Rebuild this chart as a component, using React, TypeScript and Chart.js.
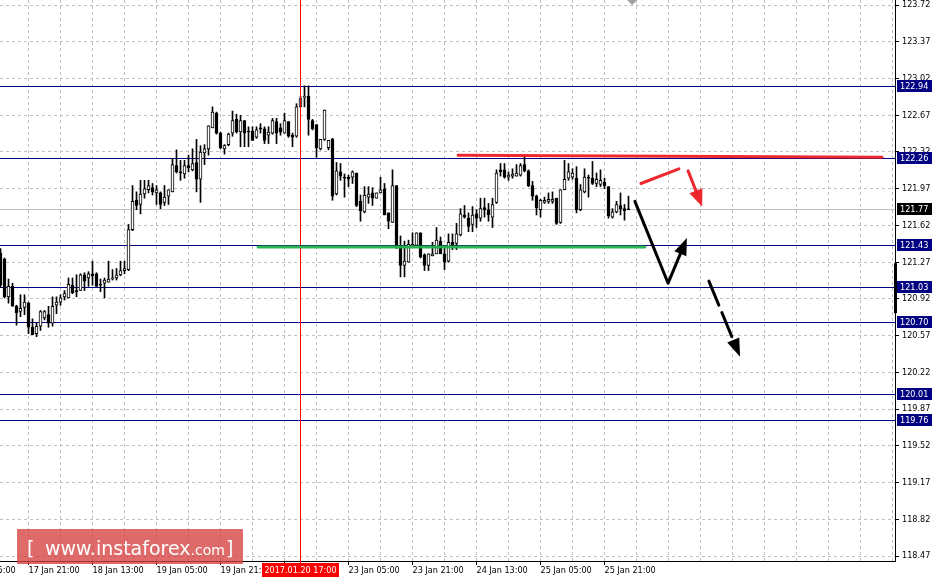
import React, { useEffect, useRef } from 'react';
import { Chart, registerables } from 'chart.js';

Chart.register(...registerables);

// ---- H1 candles (USDJPY style), index 0 = first visible bar ----
const opens = [
  121.36, 121.30, 120.94, 121.04, 120.85, 120.80, 120.84, 120.88, 120.65, 120.59,
  120.66, 120.74, 120.77, 120.69, 120.86, 120.89, 120.94, 120.93, 121.05, 121.00,
  121.00, 121.15, 121.12, 121.16, 121.16, 121.06, 121.07, 121.08, 121.11, 121.12,
  121.15, 121.19, 121.20, 121.58, 121.86, 121.82, 121.92, 121.96, 121.98, 121.93,
  121.93, 121.84, 121.90, 121.94, 122.19, 122.13, 122.11, 122.19, 122.15, 122.22,
  122.06, 122.31, 122.35, 122.55, 122.69, 122.50, 122.35, 122.39, 122.50, 122.63,
  122.51, 122.62, 122.52, 122.52, 122.46, 122.55, 122.54, 122.48, 122.50, 122.61,
  122.55, 122.50, 122.61, 122.48, 122.47, 122.75, 122.84, 122.85, 122.62, 122.58,
  122.35, 122.44, 122.36, 122.44, 121.92, 122.13, 122.08, 122.08, 122.08, 122.12,
  121.85, 121.75, 121.89, 121.93, 121.88, 121.93, 121.97, 121.74, 121.65, 122.00,
  121.43, 121.24, 121.27, 121.42, 121.43, 121.55, 121.34, 121.24, 121.33, 121.35,
  121.47, 121.35, 121.28, 121.46, 121.45, 121.53, 121.72, 121.69, 121.63, 121.73,
  121.69, 121.79, 121.77, 121.70, 121.84, 122.15, 122.15, 122.08, 122.09, 122.09,
  122.10, 122.20, 122.14, 122.00, 121.90, 121.77, 121.84, 121.85, 121.85, 121.88,
  121.65, 121.96, 122.07, 122.08, 122.07, 121.77, 121.94, 122.08, 122.07, 122.02,
  122.01, 122.03, 121.99, 121.70, 121.75, 121.81, 121.78, 121.77,
];
const highs = [
  121.40, 121.31, 121.11, 121.07, 120.86, 120.96, 120.96, 120.89, 120.73, 120.69,
  120.81, 120.81, 120.85, 120.94, 120.94, 120.96, 121.00, 121.12, 121.12, 121.15,
  121.16, 121.17, 121.18, 121.28, 121.17, 121.11, 121.12, 121.28, 121.20, 121.21,
  121.28, 121.28, 121.63, 122.00, 121.94, 122.05, 122.05, 122.05, 122.02, 122.00,
  121.94, 122.00, 121.96, 122.26, 122.34, 122.24, 122.24, 122.29, 122.35, 122.44,
  122.38, 122.39, 122.57, 122.75, 122.70, 122.51, 122.39, 122.50, 122.71, 122.68,
  122.67, 122.62, 122.56, 122.56, 122.56, 122.59, 122.56, 122.56, 122.64, 122.64,
  122.59, 122.69, 122.61, 122.50, 122.78, 122.85, 122.95, 122.95, 122.63, 122.58,
  122.44, 122.72, 122.43, 122.45, 122.22, 122.21, 122.11, 122.10, 122.14, 122.12,
  121.91, 121.99, 121.99, 121.98, 121.93, 122.08, 122.02, 121.74, 122.15, 122.00,
  121.52, 121.47, 121.48, 121.55, 121.55, 121.55, 121.35, 121.35, 121.46, 121.60,
  121.51, 121.43, 121.54, 121.54, 121.64, 121.78, 121.81, 121.74, 121.80, 121.77,
  121.88, 121.88, 121.83, 121.88, 122.15, 122.21, 122.21, 122.13, 122.16, 122.20,
  122.21, 122.28, 122.15, 122.04, 121.91, 121.87, 121.89, 121.93, 121.94, 121.88,
  121.96, 122.24, 122.21, 122.16, 122.18, 122.01, 122.16, 122.10, 122.23, 122.12,
  122.15, 122.07, 121.99, 121.78, 121.85, 121.93, 121.82, 121.90,
];
const lows = [
  121.03, 120.93, 120.88, 120.85, 120.67, 120.75, 120.77, 120.59, 120.58, 120.56,
  120.62, 120.72, 120.65, 120.66, 120.78, 120.86, 120.91, 120.93, 120.97, 120.94,
  121.00, 121.00, 121.04, 121.05, 121.04, 120.99, 120.93, 121.08, 121.10, 121.10,
  121.14, 121.16, 121.19, 121.57, 121.77, 121.73, 121.88, 121.93, 121.91, 121.82,
  121.78, 121.81, 121.82, 121.94, 122.12, 122.05, 122.07, 122.13, 122.14, 121.94,
  121.84, 122.20, 122.29, 122.55, 122.49, 122.35, 122.30, 122.38, 122.47, 122.50,
  122.37, 122.37, 122.37, 122.43, 122.45, 122.50, 122.40, 122.40, 122.49, 122.40,
  122.48, 122.50, 122.46, 122.37, 122.46, 122.75, 122.75, 122.48, 122.53, 122.27,
  122.34, 122.43, 122.34, 121.86, 121.91, 122.05, 121.89, 121.99, 122.02, 121.80,
  121.66, 121.74, 121.83, 121.81, 121.88, 121.93, 121.72, 121.59, 121.65, 121.40,
  121.13, 121.13, 121.27, 121.42, 121.43, 121.31, 121.19, 121.19, 121.33, 121.35,
  121.35, 121.20, 121.27, 121.39, 121.39, 121.52, 121.69, 121.56, 121.56, 121.60,
  121.66, 121.70, 121.66, 121.60, 121.83, 122.09, 122.07, 122.05, 122.07, 122.09,
  122.09, 122.13, 121.99, 121.86, 121.72, 121.70, 121.83, 121.83, 121.83, 121.63,
  121.64, 121.96, 122.05, 122.06, 121.74, 121.76, 121.93, 121.89, 122.01, 121.99,
  121.99, 121.97, 121.69, 121.69, 121.74, 121.72, 121.67, 121.77,
];
const closes = [
  121.05, 120.94, 121.04, 120.85, 120.79, 120.83, 120.89, 120.65, 120.58, 120.66,
  120.80, 120.80, 120.69, 120.85, 120.89, 120.93, 120.97, 121.06, 120.98, 120.99,
  121.15, 121.09, 121.16, 121.14, 121.04, 121.05, 121.10, 121.11, 121.12, 121.15,
  121.19, 121.21, 121.58, 121.85, 121.81, 121.92, 121.97, 122.00, 121.94, 121.96,
  121.82, 121.89, 121.96, 122.20, 122.13, 122.12, 122.19, 122.17, 122.21, 122.06,
  122.32, 122.35, 122.57, 122.70, 122.50, 122.36, 122.38, 122.49, 122.62, 122.51,
  122.62, 122.50, 122.51, 122.43, 122.53, 122.54, 122.43, 122.51, 122.62, 122.50,
  122.51, 122.62, 122.47, 122.46, 122.75, 122.83, 122.85, 122.63, 122.54, 122.36,
  122.44, 122.72, 122.43, 121.90, 122.14, 122.09, 122.07, 122.06, 122.13, 121.81,
  121.76, 121.91, 121.92, 121.88, 121.93, 121.96, 121.72, 121.66, 122.00, 121.43,
  121.24, 121.28, 121.44, 121.44, 121.55, 121.32, 121.24, 121.35, 121.35, 121.48,
  121.35, 121.27, 121.46, 121.43, 121.54, 121.73, 121.70, 121.61, 121.72, 121.69,
  121.78, 121.77, 121.72, 121.82, 122.12, 122.13, 122.08, 122.10, 122.11, 122.12,
  122.19, 122.14, 122.00, 121.90, 121.79, 121.86, 121.86, 121.87, 121.87, 121.64,
  121.96, 122.06, 122.13, 122.12, 121.77, 121.96, 122.08, 122.07, 122.02, 122.06,
  122.05, 122.00, 121.71, 121.75, 121.82, 121.78, 121.76, 121.77,
];

// ---- axes ----
const yTickValues = [
  118.47, 118.82, 119.17, 119.52, 119.87, 120.22, 120.57, 120.92,
  121.27, 121.62, 121.97, 122.32, 122.67, 123.02, 123.37, 123.72,
];
const timeLabelIdx = [-9, 7, 23, 39, 55, 71, 87, 103, 119, 135, 151];
const timeLabels = [
  '17 Jan 05:00', '17 Jan 21:00', '18 Jan 13:00', '19 Jan 05:00', '19 Jan 21:00',
  '20 Jan 13:00', '23 Jan 05:00', '23 Jan 21:00', '24 Jan 13:00', '25 Jan 05:00',
  '25 Jan 21:00',
];
const gridIdx = [
  7, 15, 23, 31, 39, 47, 55, 63, 71, 79, 87, 95, 103, 111, 119, 127, 135, 143,
  151, 159, 167, 175, 183, 191, 199, 207, 215, 223,
];
const Y_MIN = 118.4233;
const Y_MAX = 123.768;
const X_MIN = -0.125;
const X_MAX = 223.625;

// ---- levels & markers ----
const levelPrices = [122.94, 122.26, 121.43, 121.03, 120.7, 120.01, 119.76];
const bidPrice = 121.77;
const crosshairIdx = 75;
const crosshairLabel = '2017.01.20 17:00';
const edgeMarker = [121.26, 120.785];
const shiftIdx = 157.9;

// ---- hand-drawn analysis (bar index, price) ----
const resistanceLine = [[114.4, 122.29], [220.4, 122.27]];
const supportLine = [[64.4, 121.415], [161.1, 121.415]];
const redStroke = [[160.1, 122.02], [169.6, 122.16]];
const redArrow = [[171.9, 122.14], [175.4, 121.8]];
const blackArrow = [[158.6, 121.85], [166.9, 121.07], [171.6, 121.5]];
const blackDashedArrow = [[177.1, 121.09], [184.9, 120.37]];

const FONT_FAMILY = '"DejaVu Sans Condensed", "Liberation Sans", sans-serif';
const RED = 'rgba(237,28,36,0.95)';
const GREEN = 'rgba(34,177,76,0.95)';

type P = [number, number];

function arrowHead(ctx: CanvasRenderingContext2D, from: P, to: P, len: number, half: number) {
  const ang = Math.atan2(to[1] - from[1], to[0] - from[0]);
  const bx = to[0] - len * Math.cos(ang);
  const by = to[1] - len * Math.sin(ang);
  const nx = -Math.sin(ang);
  const ny = Math.cos(ang);
  ctx.beginPath();
  ctx.moveTo(to[0], to[1]);
  ctx.lineTo(bx + nx * half, by + ny * half);
  ctx.lineTo(bx - nx * half, by - ny * half);
  ctx.closePath();
  ctx.fill();
  return [to[0] - (len - 2) * Math.cos(ang), to[1] - (len - 2) * Math.sin(ang)] as P;
}

const overlayPlugin = {
  id: 'mtOverlay',
  beforeDatasetsDraw(chart: any) {
    const { ctx, chartArea: a, scales } = chart;
    const x = scales.x;
    const y = scales.y;
    ctx.save();
    ctx.lineWidth = 1;
    // dashed grid from the scales' tick values
    ctx.strokeStyle = '#c0c0c0';
    ctx.setLineDash([3, 3]);
    yTickValues.forEach((v) => {
      const py = Math.floor(y.getPixelForValue(v)) + 0.5;
      ctx.beginPath();
      ctx.moveTo(a.left, py);
      ctx.lineTo(a.right, py);
      ctx.stroke();
    });
    gridIdx.forEach((v) => {
      const px = Math.floor(x.getPixelForValue(v)) + 0.5;
      if (px >= a.right - 1) return;
      ctx.beginPath();
      ctx.moveTo(px, a.top);
      ctx.lineTo(px, a.bottom);
      ctx.stroke();
    });
    ctx.setLineDash([]);
    // bid line
    ctx.strokeStyle = '#c0c0c0';
    let py = Math.floor(y.getPixelForValue(bidPrice)) + 0.5;
    ctx.beginPath();
    ctx.moveTo(a.left, py);
    ctx.lineTo(a.right, py);
    ctx.stroke();
    // level lines
    ctx.strokeStyle = '#000080';
    levelPrices.forEach((lv) => {
      py = Math.floor(y.getPixelForValue(lv)) + 0.5;
      ctx.beginPath();
      ctx.moveTo(a.left, py);
      ctx.lineTo(a.right, py);
      ctx.stroke();
    });
    ctx.restore();
  },
  afterDatasetsDraw(chart: any) {
    const { ctx, chartArea: a, scales } = chart;
    const x = scales.x;
    const y = scales.y;
    const px = (p: number[]): P => [x.getPixelForValue(p[0]), y.getPixelForValue(p[1])];
    ctx.save();
    // crosshair
    const cx = Math.floor(x.getPixelForValue(crosshairIdx)) + 0.5;
    ctx.strokeStyle = '#ff0000';
    ctx.lineWidth = 1;
    ctx.beginPath();
    ctx.moveTo(cx, a.top);
    ctx.lineTo(cx, a.bottom + 2);
    ctx.stroke();

    const poly = (pts: P[], color: string, w: number, dash: number[] = []) => {
      ctx.strokeStyle = color;
      ctx.lineWidth = w;
      ctx.lineCap = 'round';
      ctx.lineJoin = 'round';
      ctx.setLineDash(dash);
      ctx.beginPath();
      ctx.moveTo(pts[0][0], pts[0][1]);
      for (let i = 1; i < pts.length; i++) ctx.lineTo(pts[i][0], pts[i][1]);
      ctx.stroke();
      ctx.setLineDash([]);
    };

    poly(resistanceLine.map(px), RED, 3);
    poly(supportLine.map(px), GREEN, 3);
    poly(redStroke.map(px), RED, 3);

    // red arrow
    let pts = redArrow.map(px);
    ctx.fillStyle = RED;
    let base = arrowHead(ctx, pts[0], pts[1], 17, 7);
    poly([pts[0], base], RED, 3);

    // black arrow (down then up)
    pts = blackArrow.map(px);
    ctx.fillStyle = '#000';
    base = arrowHead(ctx, pts[1], pts[2], 17, 6.5);
    poly([pts[0], pts[1], base], '#000', 3);

    // black dashed arrow
    pts = blackDashedArrow.map(px);
    ctx.fillStyle = '#000';
    base = arrowHead(ctx, pts[0], pts[1], 18, 6.5);
    poly([pts[0], base], '#000', 3, [26, 8]);
    ctx.restore();
  },
  afterDraw(chart: any) {
    const { ctx, chartArea: a, scales } = chart;
    const x = scales.x;
    const y = scales.y;
    ctx.save();
    ctx.font = `9px ${FONT_FAMILY}`;
    ctx.textBaseline = 'middle';
    ctx.textAlign = 'left';

    // edge marker on the price axis
    const e0 = y.getPixelForValue(edgeMarker[0]);
    const e1 = y.getPixelForValue(edgeMarker[1]);
    ctx.fillStyle = '#000';
    ctx.fillRect(a.right - 1, e0, 3, e1 - e0);

    // price labels for levels
    const box = (price: number, bg: string) => {
      const py = Math.floor(y.getPixelForValue(price)) + 0.5;
      ctx.fillStyle = bg;
      ctx.fillRect(a.right + 2, Math.round(py - 6.5), 35, 12);
      ctx.fillStyle = '#fff';
      ctx.fillText(price.toFixed(2), a.right + 5, py);
    };
    levelPrices.forEach((lv) => box(lv, '#000080'));
    box(bidPrice, '#000');

    // crosshair time label
    const cx = Math.floor(x.getPixelForValue(crosshairIdx)) + 0.5;
    ctx.fillStyle = '#ff0000';
    ctx.fillRect(Math.round(cx - 38.5), a.bottom + 2, 77, 14);
    ctx.fillStyle = '#fff';
    ctx.textAlign = 'center';
    ctx.fillText(crosshairLabel, cx, a.bottom + 9.5);

    // shift marker
    const sx = x.getPixelForValue(shiftIdx);
    ctx.fillStyle = '#a0a0a0';
    ctx.beginPath();
    ctx.moveTo(sx - 5, a.top);
    ctx.lineTo(sx + 5, a.top);
    ctx.lineTo(sx, a.top + 5);
    ctx.closePath();
    ctx.fill();

    // watermark
    ctx.fillStyle = 'rgba(214,64,64,0.78)';
    ctx.fillRect(17, 529, 226, 35);
    ctx.fillStyle = '#fff';
    ctx.textAlign = 'left';
    ctx.textBaseline = 'alphabetic';
    ctx.font = '19px "DejaVu Sans", sans-serif';
    ctx.fillText('[', 27, 555);
    ctx.fillText('www.instaforex', 45, 555);
    const w = ctx.measureText('www.instaforex').width;
    ctx.font = '14px "DejaVu Sans", sans-serif';
    ctx.fillText('.com', 45 + w, 555);
    ctx.font = '19px "DejaVu Sans", sans-serif';
    ctx.fillText(']', 226, 555);
    ctx.restore();
  },
};

export default function App() {
  const ref = useRef<HTMLCanvasElement>(null);
  useEffect(() => {
    document.body.style.margin = '0';
    const bodies = opens.map((o, i) => ({ x: i, y: [Math.min(o, closes[i]), Math.max(o, closes[i])] }));
    const wicks = highs.map((h, i) => ({ x: i, y: [lows[i], h] }));
    const bodyColors = opens.map((o, i) => (closes[i] > o ? '#ffffff' : '#000000'));
    const labelFor = (v: number) => {
      const k = timeLabelIdx.indexOf(v);
      return k >= 0 ? timeLabels[k] : '';
    };
    const chart = new Chart(ref.current as HTMLCanvasElement, {
      type: 'bar',
      data: {
        datasets: [
          {
            data: bodies as any,
            backgroundColor: bodyColors,
            borderColor: '#000',
            borderWidth: 1,
            borderSkipped: false,
            barThickness: 3,
            minBarLength: 1,
            grouped: false,
            order: 0,
          } as any,
          {
            data: wicks as any,
            backgroundColor: '#000',
            borderWidth: 0,
            barThickness: 1,
            grouped: false,
            order: 1,
          } as any,
        ],
      },
      options: {
        animation: false,
        responsive: false,
        devicePixelRatio: 1,
        events: [],
        layout: { padding: 0, autoPadding: false } as any,
        plugins: { legend: { display: false }, tooltip: { enabled: false } },
        scales: {
          x: {
            type: 'linear',
            position: 'bottom',
            min: X_MIN,
            max: X_MAX,
            offset: false,
            bounds: 'data',
            afterBuildTicks: (s: any) => {
              s.ticks = timeLabelIdx.map((v) => ({ value: v }));
            },
            afterFit: (s: any) => {
              s.height = 20;
              s.paddingLeft = 0;
              s.paddingRight = 0;
            },
            grid: {
              drawOnChartArea: false,
              offset: false,
              color: '#000',
              tickLength: 4,
              tickColor: '#000',
            },
            border: { display: true, color: '#000', width: 1 },
            ticks: {
              autoSkip: false,
              maxRotation: 0,
              minRotation: 0,
              align: 'start',
              padding: 0,
              color: '#000',
              font: { family: FONT_FAMILY, size: 9 },
              callback: (v: any) => labelFor(Number(v)),
            },
          } as any,
          y: {
            type: 'linear',
            position: 'right',
            min: Y_MIN,
            max: Y_MAX,
            bounds: 'data',
            afterBuildTicks: (s: any) => {
              s.ticks = yTickValues.map((v) => ({ value: v }));
            },
            afterFit: (s: any) => {
              s.width = 40;
              s.paddingTop = 0;
              s.paddingBottom = 0;
            },
            grid: {
              drawOnChartArea: false,
              color: '#000',
              tickLength: 4,
              tickColor: '#000',
            },
            border: { display: true, color: '#000', width: 1 },
            ticks: {
              padding: 3,
              color: '#000',
              font: { family: FONT_FAMILY, size: 9 },
              callback: (v: any) => Number(v).toFixed(2),
            },
          } as any,
        },
      },
      plugins: [overlayPlugin],
    });
    return () => chart.destroy();
  }, []);
  return (
    <div style={{ position: 'absolute', left: 0, top: 0, width: 935, height: 581 }}>
      <canvas ref={ref} width={935} height={581} style={{ display: 'block' }} />
    </div>
  );
}
